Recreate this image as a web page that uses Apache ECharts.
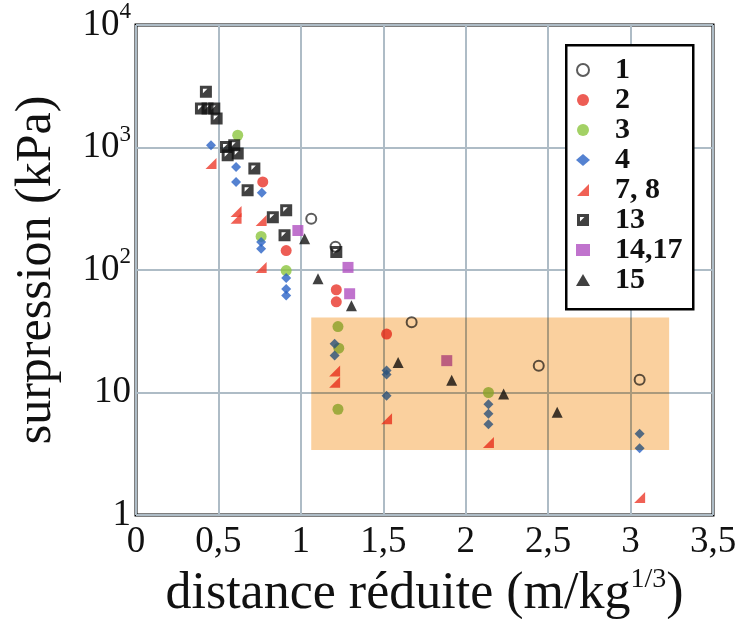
<!DOCTYPE html>
<html><head><meta charset="utf-8">
<script src="https://cdn.jsdelivr.net/npm/echarts@6/dist/echarts.min.js"></script>
<style>html,body{margin:0;padding:0;background:#fff}#c{width:735px;height:619px}</style>
</head><body><div id="c"></div>
<script>
// ---- data ----
const seriesNames = ['1', '2', '3', '4', '7, 8', '13', '14,17', '15'];
const s1 = [[1.063,262],[1.21,155],[1.672,37.4],[2.443,16.5],[3.055,12.7]];
const s2 = [[0.769,523],[0.911,144],[1.215,69],[1.215,55],[1.52,30]];
const s3 = [[0.617,1259],[0.759,188],[0.911,99],[1.225,34.5],[1.23,23],[1.225,7.3],[2.138,10]];
const s4 = [[0.455,1043],[0.607,693],[0.607,523],[0.763,428],[0.759,169],[0.759,149],[0.911,86],[0.911,70],[0.911,62],[1.205,25],[1.205,20],[1.52,15.1],[1.52,14],[1.52,9.4],[2.138,8.0],[2.138,6.7],[2.138,5.5],[3.055,4.6],[3.055,3.5]];
const s78 = [[0.455,739],[0.607,300],[0.607,265],[0.759,254],[0.759,105],[1.205,15],[1.205,12.1],[1.52,6.1],[2.138,3.9],[3.055,1.39]];
const s13 = [[0.424,2846],[0.394,2083],[0.434,2083],[0.475,2083],[0.489,1726],[0.546,1011],[0.596,1043],[0.556,864],[0.617,893],[0.718,673],[0.677,447],[0.830,270],[0.911,307],[0.901,192],[1.215,140]];
const s1417 = [[0.982,210],[1.286,105],[1.296,64],[1.885,18.2]];
const s15 = [[1.023,180],[1.104,85],[1.307,51],[1.59,17.6],[1.915,12.6],[2.23,9.7],[2.555,6.9]];
const shadedRegion = [[1.063, 3.4, 3.234, 41]]; // x1, yLow, x2, yHigh
const xTicks = ['0','0,5','1','1,5','2','2,5','3','3,5'];

const serifFont = "'Liberation Serif','DejaVu Serif',serif";
const flag = 'path://M0,10 L10,0 L10,10 Z';
const sq13 = 'path://M0,0 L10,0 L10,10 L0,10 Z M2.5,2.5 L2.5,6.2 L6.2,2.5 Z';

const chart = echarts.init(document.getElementById('c'), null, {renderer:'canvas'});
function sc(name, data, symbol, size, color, extra) {
  return Object.assign({
    name, type:'scatter', data, symbol, symbolSize:size,
    itemStyle:{color}, z:3
  }, extra || {});
}
chart.setOption({
  animation:false,
  backgroundColor:'#fff',
  grid:{left:136, right:22, top:25, bottom:104, outerBoundsMode:'none', containLabel:false,
    show:true, borderColor:'#000', borderWidth:3, backgroundColor:'transparent'},
  xAxis:{
    type:'value', min:0, max:3.5, interval:0.5,
    name:'distance réduite (m/kg{s|1/3})', nameLocation:'middle', nameGap:46,
    nameTextStyle:{fontFamily:serifFont, fontSize:52, color:'#111',
      rich:{s:{fontFamily:serifFont, fontSize:28, color:'#111', padding:[0,0,28,0]}}},
    axisLine:{show:false}, axisTick:{show:false},
    axisLabel:{fontFamily:serifFont, fontSize:37, color:'#111', margin:9,
      formatter:(v)=>xTicks[Math.round(v/0.5)]},
    splitLine:{show:true, lineStyle:{color:'#aebcc6', width:2}}
  },
  yAxis:{
    type:'log', logBase:10, min:1, max:10000,
    name:'surpression (kPa)', nameLocation:'middle', nameGap:74, nameRotate:90,
    nameTextStyle:{fontFamily:serifFont, fontSize:50, color:'#111'},
    axisLine:{show:false}, axisTick:{show:false},
    axisLabel:{fontFamily:serifFont, fontSize:37, color:'#111', margin:5,
      formatter:(v)=>{const e=Math.round(Math.log10(v)); if(e===0) return '{b|1}'; if(e===1) return '{b|10}'; return '{b|10}{s|'+e+'}';},
      rich:{b:{fontFamily:serifFont, fontSize:37, color:'#111'}, s:{fontFamily:serifFont, fontSize:23, color:'#111', padding:[0,0,26,0]}}},
    splitLine:{show:true, lineStyle:{color:'#aebcc6', width:2}},
    minorSplitLine:{show:false}
  },
  legend:{
    orient:'vertical', left:571, top:50, itemGap:0, itemWidth:14, itemHeight:12,
    data:seriesNames,
    textStyle:{fontFamily:serifFont, fontSize:30, fontWeight:'bold', color:'#111', lineHeight:30, padding:[0,0,0,20]}
  },
  graphic:[{type:'rect', left:565, top:44, shape:{width:127, height:264}, style:{fill:'#fff', stroke:'#000', lineWidth:2.5}, z:4}],
  series:[
    sc('1', s1, 'circle', 10, '#fff', {itemStyle:{color:'#fff', borderColor:'#333', borderWidth:2}}),
    sc('2', s2, 'circle', 11, '#e8342a'),
    sc('3', s3, 'circle', 11, '#8cc63f'),
    sc('4', s4, 'diamond', 10, '#2b63c6'),
    sc('7, 8', s78, flag, 11, '#ec3a2a'),
    sc('13', s13, sq13, 12, '#111'),
    sc('14,17', s1417, 'rect', 11, '#b050c0'),
    sc('15', s15, 'triangle', 11, '#111'),
    {
      type:'custom', name:'zone', data:shadedRegion, z:4, blendMode:'multiply',
      encode:{x:[0,2], y:[1,3]}, silent:true,
      renderItem:(params, api)=>{
        const p1 = api.coord([api.value(0), api.value(3)]);
        const p2 = api.coord([api.value(2), api.value(1)]);
        return {type:'rect', shape:{x:p1[0], y:p1[1], width:p2[0]-p1[0], height:p2[1]-p1[1]}, style:{fill:'#fad09e'}};
      }
    }
  ]
});
</script></body></html>
